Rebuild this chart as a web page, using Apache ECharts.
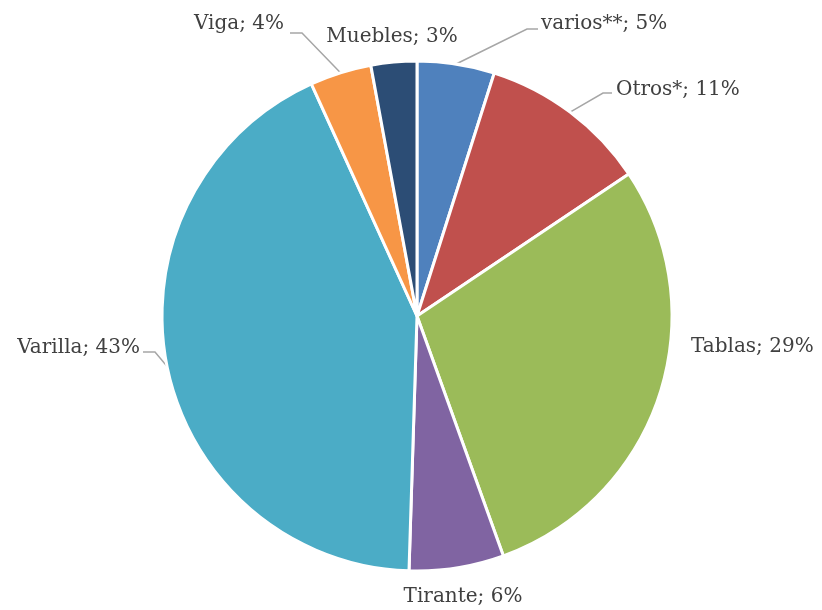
<!DOCTYPE html>
<html lang="es">
<head>
  <meta charset="UTF-8">
  <title>pie</title>
  <style>
    * { margin: 0; padding: 0; }
    #main { width: 822px; height: 610px; background: #fff; }
  </style>
</head>
<body>
  <div id="main"></div>
  <script src="https://cdn.jsdelivr.net/npm/echarts@6/dist/echarts.min.js"></script>
  <script>
    // datos (porcentaje)
    var categories = ['varios**', 'Otros*', 'Tablas', 'Tirante', 'Varilla', 'Viga', 'Muebles'];
    var values = [4.9, 10.7, 28.9, 6.0, 42.7, 3.9, 2.9];
    var colors = ['#4F81BD', '#C0504D', '#9BBB59', '#8064A2', '#4BACC6', '#F79646', '#2C4D75'];

    // posicion de las etiquetas: [x, y, align, codo x, codo y, fin x] (null = sin linea)
    var labelPos = [
      [541, 24, 'left', 527, 29, 538],
      [616, 90, 'left', 603, 93, 612],
      [691, 347, 'left', null],
      [463, 597, 'center', null],
      [140, 348, 'right', 155, 352, 143],
      [284, 24, 'right', 302, 33, 290],
      [392, 37, 'center', null]
    ];

    var myCharts = echarts.init(document.getElementById('main'));

    var data = categories.map(function (name, i) {
      return {
        name: name,
        value: values[i],
        itemStyle: { color: colors[i] },
        labelLine: { show: labelPos[i][3] != null }
      };
    });

    var option = {
      animation: false,
      series: [{
        type: 'pie',
        center: [417, 316],
        radius: 255,
        startAngle: 90,
        clockwise: true,
        data: data,
        itemStyle: { borderColor: '#fff', borderWidth: 3 },
        label: {
          show: true,
          position: 'outside',
          overflow: 'none',
          fontFamily: 'DejaVu Serif',
          fontSize: 20,
          color: '#404040',
          formatter: function (p) {
            return p.name + '; ' + Math.round(p.value) + '%';
          }
        },
        labelLine: {
          show: true,
          lineStyle: { color: '#A6A6A6', width: 1.5 }
        },
        labelLayout: function (params) {
          var lp = labelPos[params.dataIndex];
          var res = { x: lp[0], y: lp[1], align: lp[2], verticalAlign: 'middle' };
          if (lp[3] != null && params.labelLinePoints) {
            var p0 = params.labelLinePoints[0];
            res.labelLinePoints = [p0, [lp[3], lp[4]], [lp[5], lp[4]]];
          }
          return res;
        }
      }]
    };
    myCharts.setOption(option);
  </script>
</body>
</html>
